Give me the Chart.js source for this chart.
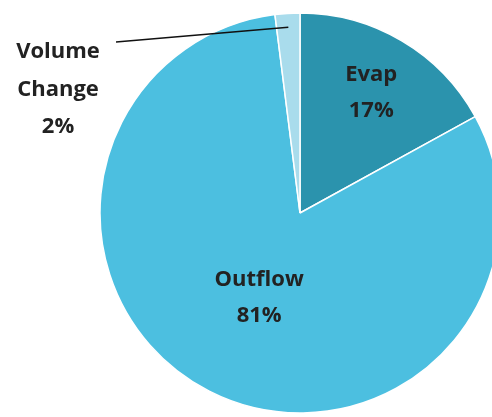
<!DOCTYPE html>
<html>
<head>
<script src="https://cdn.jsdelivr.net/npm/chart.js@4"></script>
<style>
  body { margin: 0; background: #fff; }
  #wrap { width: 492px; height: 417px; }
</style>
</head>
<body>
<div id="wrap"><canvas id="grafico"></canvas></div>
<script>
const categorias = ["Evap", "Outflow", "Volume Change"];
const porcentajes = [17, 81, 2];
const colores = ["#2b93ad", "#4cbfe0", "#a9dcec"];

// Etiquetas dentro de cada porción, y la de Volume Change afuera con línea guía
const etiquetas = {
  id: "etiquetas",
  afterDraw(chart) {
    const ctx = chart.ctx;
    const arcs = chart.getDatasetMeta(0).data;
    ctx.save();
    ctx.font = "bold 22px 'Open Sans', sans-serif";
    ctx.fillStyle = "#222";
    ctx.textAlign = "center";
    ctx.textBaseline = "middle";
    arcs.forEach((arc, i) => {
      const pct = porcentajes[i] + "%";
      const mid = (arc.startAngle + arc.endAngle) / 2;
      if (i === 2) {
        const r = arc.outerRadius * 0.93;
        const px = arc.x + Math.cos(mid) * r;
        const py = arc.y + Math.sin(mid) * r;
        ctx.strokeStyle = "#111";
        ctx.lineWidth = 1.5;
        ctx.beginPath();
        ctx.moveTo(116, 42);
        ctx.lineTo(px, py);
        ctx.stroke();
        ctx.fillText("Volume", 58, 52);
        ctx.fillText("Change", 58, 90);
        ctx.fillText(pct, 58, 127);
      } else {
        const r = i === 0 ? arc.outerRadius * 0.7 : arc.outerRadius * 0.45;
        const x = arc.x + Math.cos(mid) * r;
        const y = arc.y + Math.sin(mid) * r + (i === 1 ? 5 : 0);
        ctx.fillText(categorias[i], x, y - 18);
        ctx.fillText(pct, x, y + 18);
      }
    });
    ctx.restore();
  },
};

new Chart(document.getElementById("grafico"), {
  type: "pie",
  data: {
    labels: categorias,
    datasets: [{
      data: porcentajes,
      backgroundColor: colores,
      borderColor: "#ffffff",
      borderWidth: 1.5,
    }],
  },
  options: {
    responsive: true,
    maintainAspectRatio: false,
    animation: false,
    radius: 200,
    layout: { padding: { left: 108, right: 0, top: 13, bottom: 4 } },
    plugins: {
      legend: { display: false },
      tooltip: { enabled: false },
    },
  },
  plugins: [etiquetas],
});
</script>
</body>
</html>
